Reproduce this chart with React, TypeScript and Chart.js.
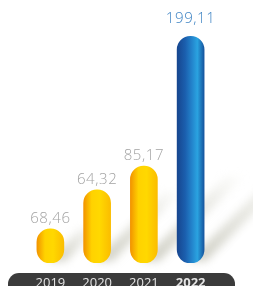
import React, { useEffect, useRef } from "react";
import { Chart, registerables } from "chart.js";

Chart.register(...registerables);

const categories = ["2019", "2020", "2021", "2022"];
const barHeights = [30, 64.32, 85.17, 199.11];
const valueLabels = ["68,46", "64,32", "85,17", "199,11"];
const highlightIndex = 3;
const BAR_W = 27;

const decorPlugin = {
  id: "decor",
  beforeDatasetsDraw(chart: any) {
    const ctx = chart.ctx;
    const meta = chart.getDatasetMeta(0);
    ctx.save();
    ctx.filter = "blur(4px)";
    meta.data.forEach((bar: any) => {
      const h = bar.base - bar.y;
      const right = bar.x + bar.width / 2;
      const len = Math.min(h * 0.95, 85);
      ctx.beginPath();
      ctx.moveTo(right - 16, bar.base - 2);
      ctx.lineTo(right + len - 16, bar.base - len - 2);
      ctx.lineTo(right + len + 2, bar.base - len - 2);
      ctx.lineTo(right + 2, bar.base - 2);
      ctx.closePath();
      const g = ctx.createLinearGradient(right, bar.base, right + len, bar.base - len);
      g.addColorStop(0, "rgba(195,195,182,0.8)");
      g.addColorStop(0.7, "rgba(215,215,205,0.45)");
      g.addColorStop(1, "rgba(230,230,220,0.1)");
      ctx.fillStyle = g;
      ctx.fill();
    });
    ctx.restore();
  },
  afterDatasetsDraw(chart: any) {
    const ctx = chart.ctx;
    const meta = chart.getDatasetMeta(0);
    ctx.save();
    ctx.textAlign = "center";
    ctx.textBaseline = "alphabetic";
    ctx.font = "300 15px 'Open Sans', Lato, sans-serif";
    try { (ctx as any).letterSpacing = "0.6px"; } catch (e) {}
    meta.data.forEach((bar: any, i: number) => {
      const hi = i === highlightIndex;
      ctx.fillStyle = hi ? "#3f84c4" : "#a3a3a3";
      ctx.fillText(valueLabels[i], bar.x, bar.y - (hi ? 13 : 6));
    });
    ctx.restore();
  },
  beforeDraw(chart: any) {
    const ctx = chart.ctx;
    const xs = chart.scales.x;
    const left = xs.left - 19;
    const right = xs.right + 21;
    const top = chart.chartArea.bottom + 10;
    const bottom = top + 30;
    const r = 11;
    ctx.save();
    ctx.fillStyle = "#3b3b3b";
    ctx.beginPath();
    ctx.moveTo(left + r, top);
    ctx.lineTo(right - r, top);
    ctx.arcTo(right, top, right, top + r, r);
    ctx.lineTo(right, bottom);
    ctx.lineTo(left, bottom);
    ctx.lineTo(left, top + r);
    ctx.arcTo(left, top, left + r, top, r);
    ctx.closePath();
    ctx.fill();
    ctx.restore();
  },
};

function barGradient(c: any) {
  const chart = c.chart;
  const i = c.dataIndex;
  const xs = chart.scales && chart.scales.x;
  if (!chart.chartArea || !xs) return i === highlightIndex ? "#1f6fbf" : "#ffc800";
  const cx = xs.getPixelForValue(i);
  if (!Number.isFinite(cx)) return i === highlightIndex ? "#1f6fbf" : "#ffc800";
  const l = cx - BAR_W / 2;
  const r = cx + BAR_W / 2;
  const g = chart.ctx.createLinearGradient(l, 0, r, 0);
  if (i === highlightIndex) {
    g.addColorStop(0, "#17468f");
    g.addColorStop(0.3, "#1b5fae");
    g.addColorStop(0.55, "#2384cc");
    g.addColorStop(0.75, "#2aa3e0");
    g.addColorStop(1, "#15549e");
  } else {
    g.addColorStop(0, "#f29400");
    g.addColorStop(0.3, "#ffd200");
    g.addColorStop(0.6, "#ffd800");
    g.addColorStop(1, "#fbbd00");
  }
  return g;
}

export default function App() {
  const ref = useRef<HTMLCanvasElement | null>(null);
  useEffect(() => {
    if (!ref.current) return;
    const chart = new Chart(ref.current, {
      type: "bar",
      data: {
        labels: categories,
        datasets: [
          {
            data: barHeights,
            backgroundColor: barGradient,
            borderRadius: 14,
            borderSkipped: false,
            barThickness: BAR_W,
          },
        ],
      },
      options: {
        animation: false,
        responsive: false,
        maintainAspectRatio: false,
        layout: { padding: { left: 27, right: 39, top: 0, bottom: 0 } },
        plugins: { legend: { display: false }, tooltip: { enabled: false } },
        scales: {
          x: {
            grid: { display: false, drawTicks: false },
            border: { display: false },
            afterFit: (s: any) => { s.height = 23; },
            ticks: {
              padding: 12,
              color: "#e6e6e6",
              font: (c: any) => ({
                family: "'Open Sans', Lato, sans-serif",
                size: 13,
                weight: c.index === highlightIndex ? "bold" : "normal",
              }),
            },
          },
          y: {
            display: false,
            min: 0,
            max: 231,
          },
        },
      },
      plugins: [decorPlugin],
    });
    return () => chart.destroy();
  }, []);
  return (
    <div style={{ position: "fixed", left: 0, top: 0, width: 253, height: 286, background: "#fff" }}>
      <canvas ref={ref} width={253} height={286} style={{ display: "block" }} />
    </div>
  );
}
